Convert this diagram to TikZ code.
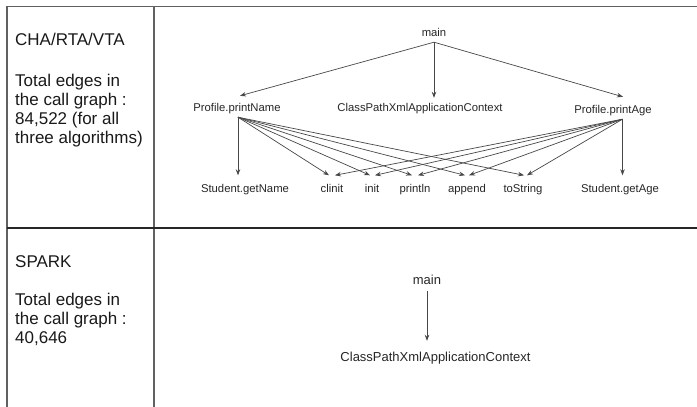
\documentclass[tikz,border=0pt]{standalone}
\usepackage{fontspec}
\setmainfont{Liberation Sans}
\usetikzlibrary{arrows.meta}
\begin{document}
\begin{tikzpicture}[x=1pt,y=-1pt,
  rule/.style={line width=1.2pt, draw=black!62},
  lbl/.style={font=\fontsize{11.3}{13}\selectfont, text=black!85, inner xsep=0pt,
    inner ysep=3.5pt, text height=8pt, text depth=2.5pt, anchor=base},
  callee/.style={lbl, inner ysep=8.5pt},
  biglbl/.style={lbl, font=\fontsize{13}{15}\selectfont, text height=9pt, text depth=3pt},
  call/.style={draw=black!72, line width=0.7pt, -{Stealth[length=6pt,width=4.5pt]}},
  side/.style={font=\fontsize{17}{19}\selectfont, anchor=base west, inner sep=0pt, text=black!90}
]
\useasboundingbox (0,0) rectangle (697,407);

% table rules
\draw[rule] (697,6.5) -- (7,6.5) -- (7,407);
\draw[rule] (154,6.5) -- (154,407);
\draw[rule, draw=black!85] (7,228) -- (697,228);

% left column, first row
\node[side] (algA) at (15,45) {CHA/RTA/VTA};
\node[side] (algA1) at (15,86) {Total edges in};
\node[side] (algA2) at (15,105) {the call graph :};
\node[side] (algA3) at (15,124) {84,522 (for all};
\node[side] (algA4) at (15,143) {three algorithms)};

% left column, second row
\node[side] (algB) at (15,267) {SPARK};
\node[side] (algB1) at (15,305) {Total edges in};
\node[side] (algB2) at (15,324) {the call graph :};
\node[side] (algB3) at (15,343) {40,646};

% call graph for CHA/RTA/VTA
\node[lbl, inner ysep=3.5pt] (main) at (434,36) {main};
\node[lbl] (pn) at (237,111) {Profile.printName};
\node[lbl] (cpx) at (420,111) {ClassPathXmlApplicationContext};
\node[lbl] (pa) at (613,113) {Profile.printAge};

\node[callee] (gn) at (245,192) {Student.getName};
\node[callee] (clinit) at (332,192) {clinit};
\node[callee] (init) at (372,192) {init};
\node[callee] (println) at (415,192) {println};
\node[callee] (append) at (467,192) {append};
\node[callee] (tostr) at (523,192) {toString};
\node[callee] (ga) at (620,192) {Student.getAge};

\draw[call] (main.south) -- ([xshift=3pt,yshift=3.5pt]pn.north);
\draw[call] (main.south) -- ([yshift=1.5pt]main.south |- cpx.north);
\draw[call] (main.south) -- ([xshift=10pt,yshift=4.5pt]pa.north);

\draw[call] ([xshift=1pt]pn.south) -- ([xshift=1pt]pn.south |- gn.north);
\draw[call] ([xshift=1pt]pn.south) -- ([xshift=-3pt]clinit.north);
\draw[call] ([xshift=1pt]pn.south) -- ([xshift=-2pt]init.north);
\draw[call] ([xshift=1pt]pn.south) -- ([xshift=-3pt]println.north);
\draw[call] ([xshift=1pt]pn.south) -- ([xshift=-2pt]append.north);
\draw[call] ([xshift=1pt]pn.south) -- ([xshift=1pt]tostr.north);

\draw[call] ([xshift=9.5pt]pa.south) -- ([xshift=9.5pt]pa.south |- ga.north);
\draw[call] ([xshift=9.5pt]pa.south) -- ([xshift=4pt]tostr.north);
\draw[call] ([xshift=9.5pt]pa.south) -- ([xshift=2pt]append.north);
\draw[call] ([xshift=9.5pt]pa.south) -- ([xshift=3pt]println.north);
\draw[call] ([xshift=9.5pt]pa.south) -- ([xshift=3pt]init.north);
\draw[call] ([xshift=9.5pt]pa.south) -- ([xshift=3pt]clinit.north);

% call graph for SPARK
\node[biglbl] (mainB) at (427,284.5) {main};
\node[biglbl, inner ysep=11pt] (cpxB) at (435.5,361) {ClassPathXmlApplicationContext};
\draw[call] (mainB.south) -- (mainB.south |- cpxB.north);
\end{tikzpicture}
\end{document}
